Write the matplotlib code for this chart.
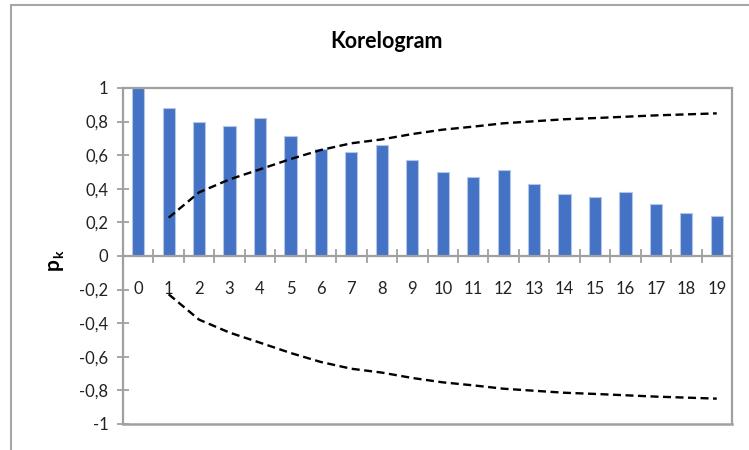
import matplotlib
matplotlib.use("Agg")
import matplotlib.pyplot as plt
from matplotlib.patches import Rectangle
import numpy as np

plt.rcParams['font.family'] = ['Lato', 'DejaVu Sans']

lags = list(range(20))
acf = [1.0, 0.883, 0.796, 0.776, 0.823, 0.716, 0.637, 0.621, 0.663, 0.571,
       0.498, 0.472, 0.510, 0.427, 0.367, 0.349, 0.381, 0.311, 0.258, 0.236]
bound_lags = list(range(1, 20))
upper = [0.228, 0.379, 0.456, 0.516, 0.577, 0.631, 0.671, 0.694, 0.726, 0.752,
         0.770, 0.790, 0.802, 0.814, 0.821, 0.829, 0.837, 0.843, 0.849]
lower = [-0.228, -0.379, -0.456, -0.516, -0.577, -0.631, -0.671, -0.694, -0.726, -0.752,
         -0.770, -0.790, -0.802, -0.814, -0.821, -0.829, -0.837, -0.843, -0.849]
yticks = [1, 0.8, 0.6, 0.4, 0.2, 0, -0.2, -0.4, -0.6, -0.8, -1]
ytick_labels = ['1', '0,8', '0,6', '0,4', '0,2', '0', '-0,2', '-0,4', '-0,6', '-0,8', '-1']

W, H = 749, 450
fig = plt.figure(figsize=(W / 100, H / 100), dpi=100)
fig.patch.set_facecolor('white')

# outer chart border
fig.patches.append(Rectangle((10.5 / W, -0.05), 1.2, 1 - 5 / H + 0.05,
                             transform=fig.transFigure, fill=False,
                             edgecolor='#A6A6A6', lw=1.5, zorder=0))

L, R, T, B = 123, 732, 88, 424
ax = fig.add_axes([L / W, 1 - B / H, (R - L) / W, (B - T) / H])

gray = '#A0A0A0'
ax.bar(lags, acf, width=0.4, color='#4472C4', edgecolor='#B4C7E7', linewidth=0.8, zorder=2)
ax.plot(bound_lags, upper, color='black', lw=1.7, linestyle=(0, (3.4, 1.9)), zorder=3)
ax.plot(bound_lags, lower, color='black', lw=1.7, linestyle=(0, (3.4, 1.9)), zorder=3)

ax.set_xlim(-0.5, 19.5)
ax.set_ylim(-1, 1)

ax.spines['bottom'].set_position(('data', 0))
for s in ['left', 'bottom', 'top', 'right']:
    ax.spines[s].set_color(gray)
    ax.spines[s].set_linewidth(1.6)
ax.axhline(-1, color=gray, lw=1.8, clip_on=False, zorder=1)

ax.set_yticks(yticks)
ax.set_yticklabels(ytick_labels)
ax.tick_params(axis='y', direction='inout', length=9, width=1.3, color=gray,
               labelsize=12, pad=6, labelcolor='#222222')

ax.set_xticks(lags)
ax.set_xticklabels([str(v) for v in lags])
ax.set_xticks(np.arange(0.5, 19.5, 1), minor=True)
ax.tick_params(axis='x', which='major', length=0, labelsize=12, pad=18, labelcolor='#222222')
ax.tick_params(axis='x', which='minor', direction='inout', length=10, width=1.3, color=gray)

fig.text(386 / W, 1 - 42 / H, 'Korelogram', ha='center', va='center',
         fontsize=15.5, fontweight='bold', color='black')
# rotated y label "p" with subscript "k"
fig.text(53 / W, 1 - 264 / H, 'p', ha='center', va='center',
         rotation=90, fontsize=15, fontweight='bold', color='black')
fig.text(59 / W, 1 - 254 / H, 'k', ha='center', va='center',
         rotation=90, fontsize=10, fontweight='bold', color='black')

fig.savefig('out.png', dpi=100)
